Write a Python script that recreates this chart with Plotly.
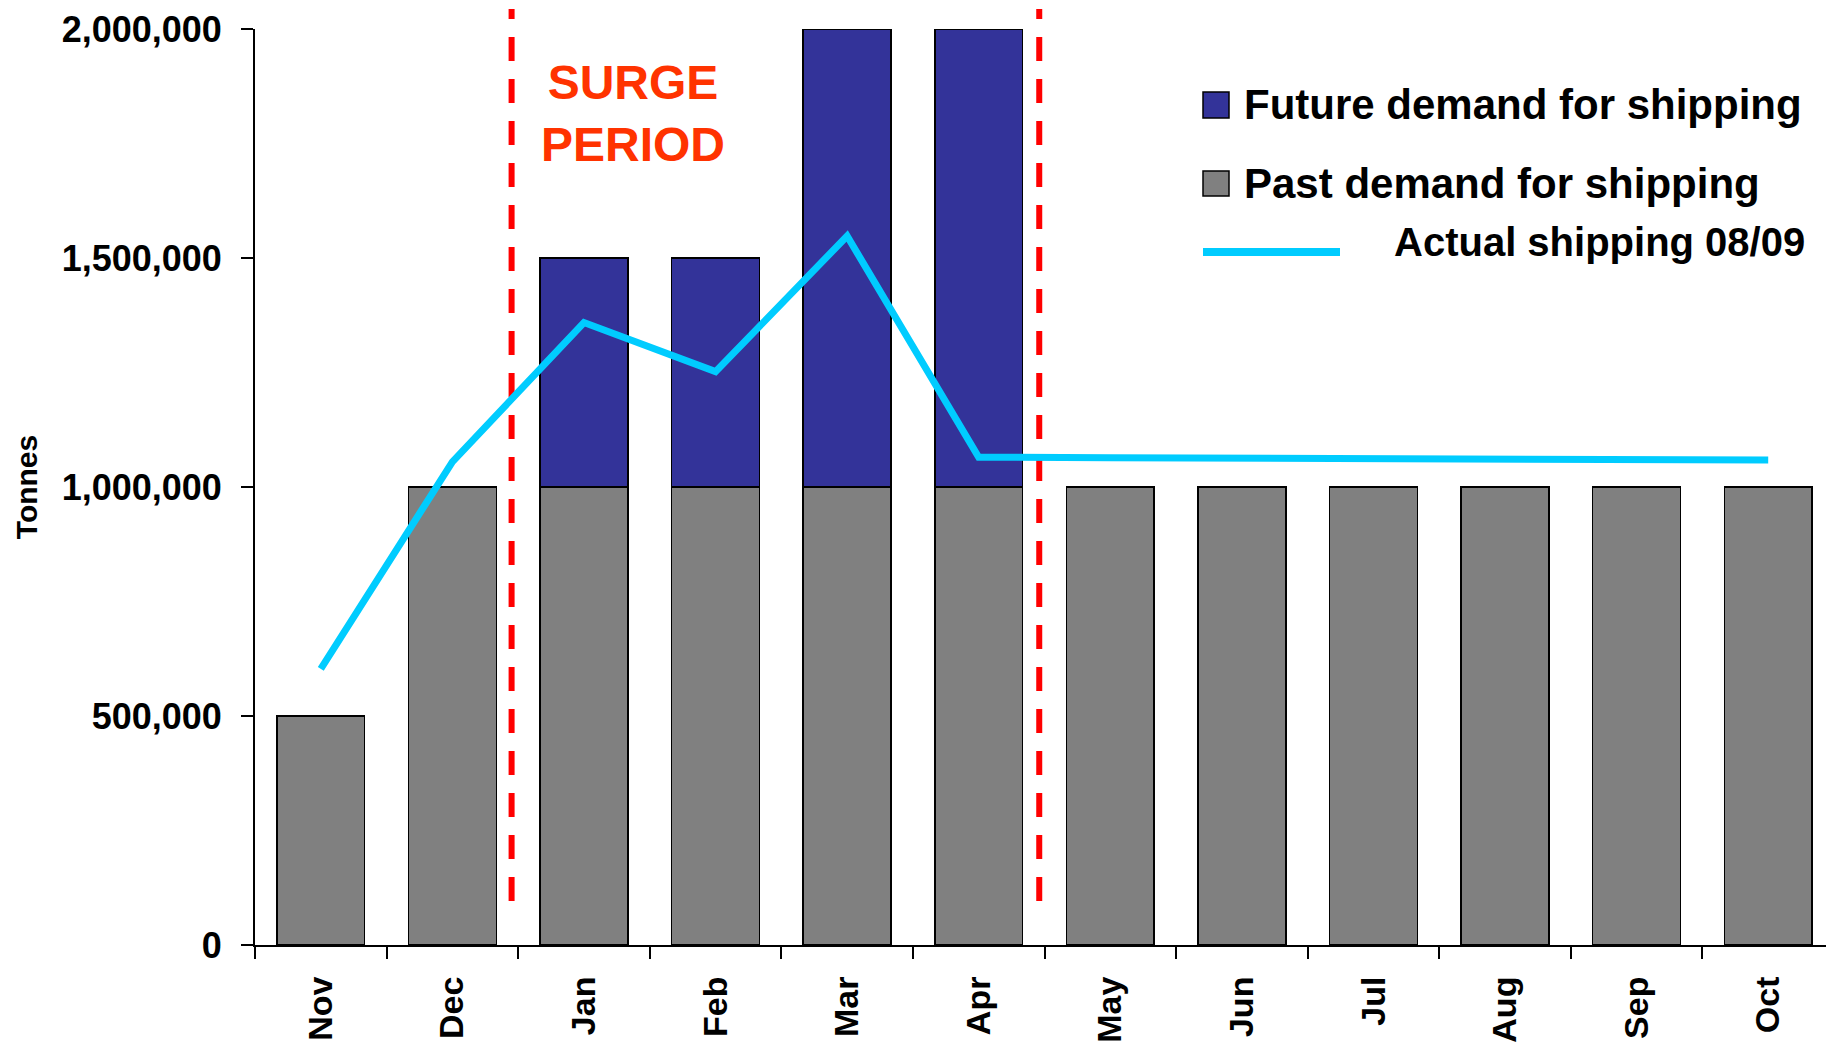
import plotly.graph_objects as go

# ---- data ----
months = ["Nov", "Dec", "Jan", "Feb", "Mar", "Apr", "May", "Jun", "Jul", "Aug", "Sep", "Oct"]
past_demand = [500000, 1000000, 1000000, 1000000, 1000000, 1000000,
               1000000, 1000000, 1000000, 1000000, 1000000, 1000000]
future_demand = [0, 0, 500000, 500000, 1000000, 1000000, 0, 0, 0, 0, 0, 0]
actual_shipping = [603000, 1055000, 1359000, 1252000, 1548000, 1065000,
                   1064000, 1063000, 1062000, 1061000, 1060000, 1059000]
y_ticks = [0, 500000, 1000000, 1500000, 2000000]
legend_names = ["Future demand for shipping", "Past demand for shipping", "Actual shipping 08/09"]
surge_text = "SURGE<br>PERIOD"
y_title = "Tonnes"

# ---- styling / layout ----
OFF = 8  # page body margin
W, H = 1834 - OFF, 1046 - OFF
# plot area in page pixels
PL, PR, PT, PB = 255, 1834, 29, 945
FONT = "Liberation Sans, Arial, Helvetica, sans-serif"
GREY = "#808080"
NAVY = "#333399"
CYAN = "#00CCFF"


def px(x):
    return (x - PL) / (PR - PL)


def py(y):
    return (PB - y) / (PB - PT)


fig = go.Figure()
fig.add_trace(go.Bar(x=months, y=past_demand, name=legend_names[1],
                     marker=dict(color=GREY, line=dict(color="black", width=1.5))))
fig.add_trace(go.Bar(x=months, y=future_demand, name=legend_names[0],
                     marker=dict(color=NAVY, line=dict(color="black", width=1.5))))
fig.add_trace(go.Scatter(x=months, y=actual_shipping, name=legend_names[2], mode="lines",
                         line=dict(color=CYAN, width=7)))

shapes = []
# surge period boundaries
for xb in (1.45, 5.46):
    shapes.append(dict(type="line", xref="x", yref="paper", x0=xb, x1=xb,
                       y0=py(901), y1=py(9), layer="below",
                       line=dict(color="#FF0000", width=6, dash="24px,18px")))
# custom legend
shapes.append(dict(type="rect", xref="paper", yref="paper", x0=px(1203), x1=px(1229),
                   y0=py(118), y1=py(92), fillcolor=NAVY, line=dict(color="black", width=1.5)))
shapes.append(dict(type="rect", xref="paper", yref="paper", x0=px(1203), x1=px(1229),
                   y0=py(196), y1=py(171), fillcolor=GREY, line=dict(color="black", width=1.5)))
shapes.append(dict(type="line", xref="paper", yref="paper", x0=px(1203), x1=px(1340),
                   y0=py(252), y1=py(252), line=dict(color=CYAN, width=8)))

annotations = [
    dict(xref="paper", yref="paper", x=px(1242), y=py(105), text=legend_names[0],
         showarrow=False, xanchor="left", yanchor="middle",
         font=dict(family=FONT, size=42, color="black", weight="bold")),
    dict(xref="paper", yref="paper", x=px(1242), y=py(184), text=legend_names[1],
         showarrow=False, xanchor="left", yanchor="middle",
         font=dict(family=FONT, size=42, color="black", weight="bold")),
    dict(xref="paper", yref="paper", x=px(1392), y=py(242), text=legend_names[2],
         showarrow=False, xanchor="left", yanchor="middle",
         font=dict(family=FONT, size=40, color="black", weight="bold")),
    dict(xref="paper", yref="paper", x=px(633), y=py(114), text=surge_text,
         showarrow=False, xanchor="center", yanchor="middle", align="center",
         font=dict(family=FONT, size=48, color="#FF3300", weight="bold")),
]

fig.update_layout(
    width=W, height=H,
    margin=dict(l=PL - OFF, r=0, t=PT - OFF, b=H - (PB - OFF), pad=0),
    barmode="stack", bargap=0.333,
    plot_bgcolor="white", paper_bgcolor="white",
    showlegend=False,
    shapes=shapes, annotations=annotations,
    font=dict(family=FONT, color="black"),
    xaxis=dict(type="category", showline=True, linecolor="black", linewidth=2,
               ticks="outside", tickson="boundaries", ticklen=12, tickwidth=2, tickcolor="black",
               tickangle=-90, ticklabelstandoff=16, showgrid=False, zeroline=False,
               tickfont=dict(family=FONT, size=34, color="black", weight="bold"),
               automargin=False),
    yaxis=dict(range=[0, 2000000], tickvals=y_ticks, tickformat=",", showline=True,
               linecolor="black", linewidth=2, ticks="outside", ticklen=12, tickwidth=2,
               tickcolor="black", ticklabelstandoff=12, showgrid=False, zeroline=False,
               tickfont=dict(family=FONT, size=36, color="black", weight="bold"),
               title=dict(text=y_title, standoff=15,
                          font=dict(family=FONT, size=30, color="black", weight="bold")),
               automargin=False),
)

fig.write_html("out.html")
